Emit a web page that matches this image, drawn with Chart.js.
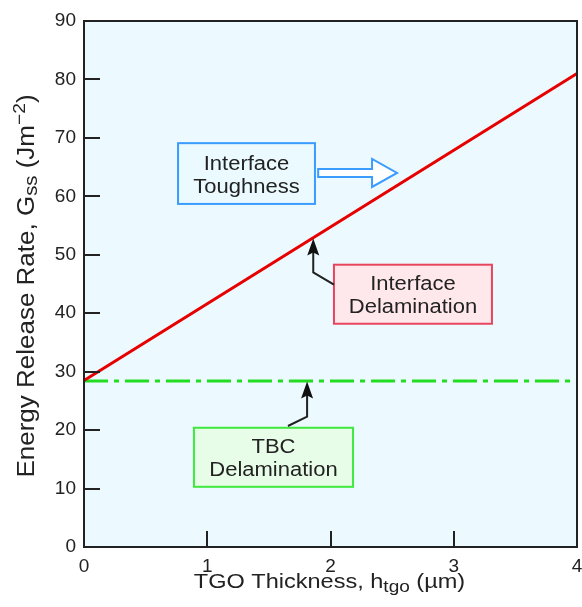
<!DOCTYPE html>
<html>
<head>
<meta charset="utf-8">
<script src="https://cdn.jsdelivr.net/npm/chart.js@4/dist/chart.umd.min.js"></script>
<style>
  html, body { margin: 0; padding: 0; background: #fff; }
  #wrap { width: 582px; height: 607px; }
</style>
</head>
<body>
<div id="wrap"><canvas id="chart"></canvas></div>
<script>
// データ
const thicknessRange = [0, 4];          // TGO 厚さ (µm)
const interfaceRate = [28.5, 81];       // 界面剥離 G_ss
const tbcRate = [28.4, 28.4];           // TBC 剥離 G_ss
const xTickValues = [0, 1, 2, 3, 4];
const yTickValues = [0, 10, 20, 30, 40, 50, 60, 70, 80, 90];

// 注釈ラベル
const toughnessLabel = ['Interface', 'Toughness'];
const interfaceLabel = ['Interface', 'Delamination'];
const tbcLabel = ['TBC', 'Delamination'];

const FONT = '"Liberation Sans", Arial, sans-serif';
const INK = '#222';

const toPoints = (xs, ys) => xs.map((x, i) => ({ x, y: ys[i] }));

// 横に少し伸ばした文字列 (下付き・上付き対応)
function richText(ctx, parts, cx, cy, stretch) {
  let w = 0;
  parts.forEach(p => { ctx.font = p.size + 'px ' + FONT; w += ctx.measureText(p.t).width; });
  ctx.save();
  ctx.translate(cx, cy);
  ctx.scale(stretch, 1);
  ctx.fillStyle = INK;
  ctx.textAlign = 'left';
  ctx.textBaseline = 'alphabetic';
  let pos = -w / 2;
  parts.forEach(p => {
    ctx.font = p.size + 'px ' + FONT;
    ctx.fillText(p.t, pos, p.dy || 0);
    pos += ctx.measureText(p.t).width;
  });
  ctx.restore();
}

// 背景・枠・内向き目盛り・注釈・軸タイトルを描く
const decor = {
  id: 'decor',
  beforeDraw(chart) {
    const { ctx, chartArea: a } = chart;
    ctx.save();
    ctx.fillStyle = '#ecf9fe';
    ctx.fillRect(a.left, a.top, a.right - a.left, a.bottom - a.top);
    ctx.restore();
  },
  afterDatasetsDraw(chart) {
    const { ctx, chartArea: a, scales: { x, y } } = chart;
    ctx.save();

    // 枠
    ctx.strokeStyle = INK;
    ctx.lineWidth = 2;
    ctx.strokeRect(a.left, a.top, a.right - a.left, a.bottom - a.top);

    // 内向き目盛り
    ctx.beginPath();
    yTickValues.forEach(v => {
      const py = Math.round(y.getPixelForValue(v));
      ctx.moveTo(a.left, py);
      ctx.lineTo(a.left + 16, py);
    });
    xTickValues.forEach(v => {
      const px = Math.round(x.getPixelForValue(v));
      ctx.moveTo(px, a.bottom);
      ctx.lineTo(px, a.bottom - 16);
    });
    ctx.stroke();

    const P = (dx, dy) => [x.getPixelForValue(dx), y.getPixelForValue(dy)];

    // ラベル付きボックス
    const box = (x0, y0, x1, y1, lines, stroke, fill) => {
      const [l, t] = P(x0, y0);
      const [r, b] = P(x1, y1);
      ctx.fillStyle = fill;
      ctx.fillRect(l, t, r - l, b - t);
      ctx.strokeStyle = stroke;
      ctx.lineWidth = 2;
      ctx.strokeRect(l, t, r - l, b - t);
      const cx = (l + r) / 2, cy = (t + b) / 2;
      richText(ctx, [{ t: lines[0], size: 20 }], cx, cy - 4, 1.1);
      richText(ctx, [{ t: lines[1], size: 20 }], cx, cy + 19, 1.1);
    };

    // 折れ線付き黒矢印
    const pointer = (pts) => {
      const px = pts.map(p => P(p[0], p[1]));
      ctx.strokeStyle = INK;
      ctx.lineWidth = 2;
      ctx.beginPath();
      ctx.moveTo(px[0][0], px[0][1]);
      for (let i = 1; i < px.length - 1; i++) ctx.lineTo(px[i][0], px[i][1]);
      const tip = px[px.length - 1];
      ctx.lineTo(tip[0], tip[1] + 12);
      ctx.stroke();
      ctx.fillStyle = '#111';
      ctx.beginPath();
      ctx.moveTo(tip[0], tip[1]);
      ctx.lineTo(tip[0] - 6, tip[1] + 17);
      ctx.lineTo(tip[0], tip[1] + 14);
      ctx.lineTo(tip[0] + 6, tip[1] + 17);
      ctx.closePath();
      ctx.fill();
    };

    box(0.763, 69.1, 1.874, 58.7, toughnessLabel, '#3b9cff', '#eafaff');
    box(2.028, 48.3, 3.31, 38.2, interfaceLabel, '#e8465e', '#ffe8ec');
    box(0.892, 20.4, 2.183, 10.3, tbcLabel, '#3ee83e', '#e8fde8');

    pointer([[2.028, 44.9], [1.86, 47.0], [1.86, 52.8]]);
    pointer([[1.655, 20.7], [1.81, 22.3], [1.81, 28.3]]);

    // 白抜き矢印
    {
      const [sx, cy] = P(1.90, 64.0);
      const [tx] = P(2.54, 64.0);
      const hx = tx - 25;
      ctx.fillStyle = '#ffffff';
      ctx.strokeStyle = '#3b9cff';
      ctx.lineWidth = 2;
      ctx.beginPath();
      ctx.moveTo(sx, cy - 4);
      ctx.lineTo(hx, cy - 4);
      ctx.lineTo(hx, cy - 14);
      ctx.lineTo(tx, cy);
      ctx.lineTo(hx, cy + 14);
      ctx.lineTo(hx, cy + 4);
      ctx.lineTo(sx, cy + 4);
      ctx.closePath();
      ctx.fill();
      ctx.stroke();
    }

    // 軸タイトル
    richText(ctx, [
      { t: 'TGO Thickness, h', size: 21 },
      { t: 'tgo', size: 17, dy: 4 },
      { t: ' (\u00b5m)', size: 21 }
    ], (a.left + a.right) / 2 - 1, 588, 1.12);

    ctx.translate(34, (a.top + a.bottom) / 2 + 2);
    ctx.rotate(-Math.PI / 2);
    richText(ctx, [
      { t: 'Energy Release Rate, G', size: 23 },
      { t: 'ss', size: 18, dy: 3 },
      { t: ' (Jm', size: 23 },
      { t: '\u22122', size: 17, dy: -9 },
      { t: ')', size: 23 }
    ], 0, 0, 1.13);

    ctx.restore();
  }
};

new Chart(document.getElementById('chart'), {
  type: 'line',
  data: {
    datasets: [
      {
        label: 'Interface Delamination',
        data: toPoints(thicknessRange, interfaceRate),
        borderColor: '#e60000',
        borderWidth: 3,
        pointRadius: 0,
        tension: 0
      },
      {
        label: 'TBC Delamination',
        data: toPoints(thicknessRange, tbcRate),
        borderColor: '#22dd22',
        borderWidth: 3,
        borderDash: [24, 6, 5, 6],
        pointRadius: 0,
        tension: 0
      }
    ]
  },
  options: {
    responsive: true,
    maintainAspectRatio: false,
    animation: false,
    layout: { padding: { top: 21, right: 5, left: 0, bottom: 0 } },
    plugins: { legend: { display: false }, tooltip: { enabled: false } },
    scales: {
      x: {
        type: 'linear',
        min: 0,
        max: 4,
        afterBuildTicks: s => { s.ticks = xTickValues.map(v => ({ value: v })); },
        afterFit: s => { s.height = 60; s.paddingLeft = 0; s.paddingRight = 0; },
        grid: { display: false, drawTicks: false },
        border: { display: false },
        ticks: { padding: 8, color: INK, font: { size: 19, family: FONT } }
      },
      y: {
        min: 0,
        max: 90,
        afterBuildTicks: s => { s.ticks = yTickValues.map(v => ({ value: v })); },
        afterFit: s => { s.width = 84; s.paddingTop = 0; s.paddingBottom = 0; },
        grid: { display: false, drawTicks: false },
        border: { display: false },
        ticks: { padding: 8, color: INK, font: { size: 19, family: FONT } }
      }
    }
  },
  plugins: [decor]
});
</script>
</body>
</html>
